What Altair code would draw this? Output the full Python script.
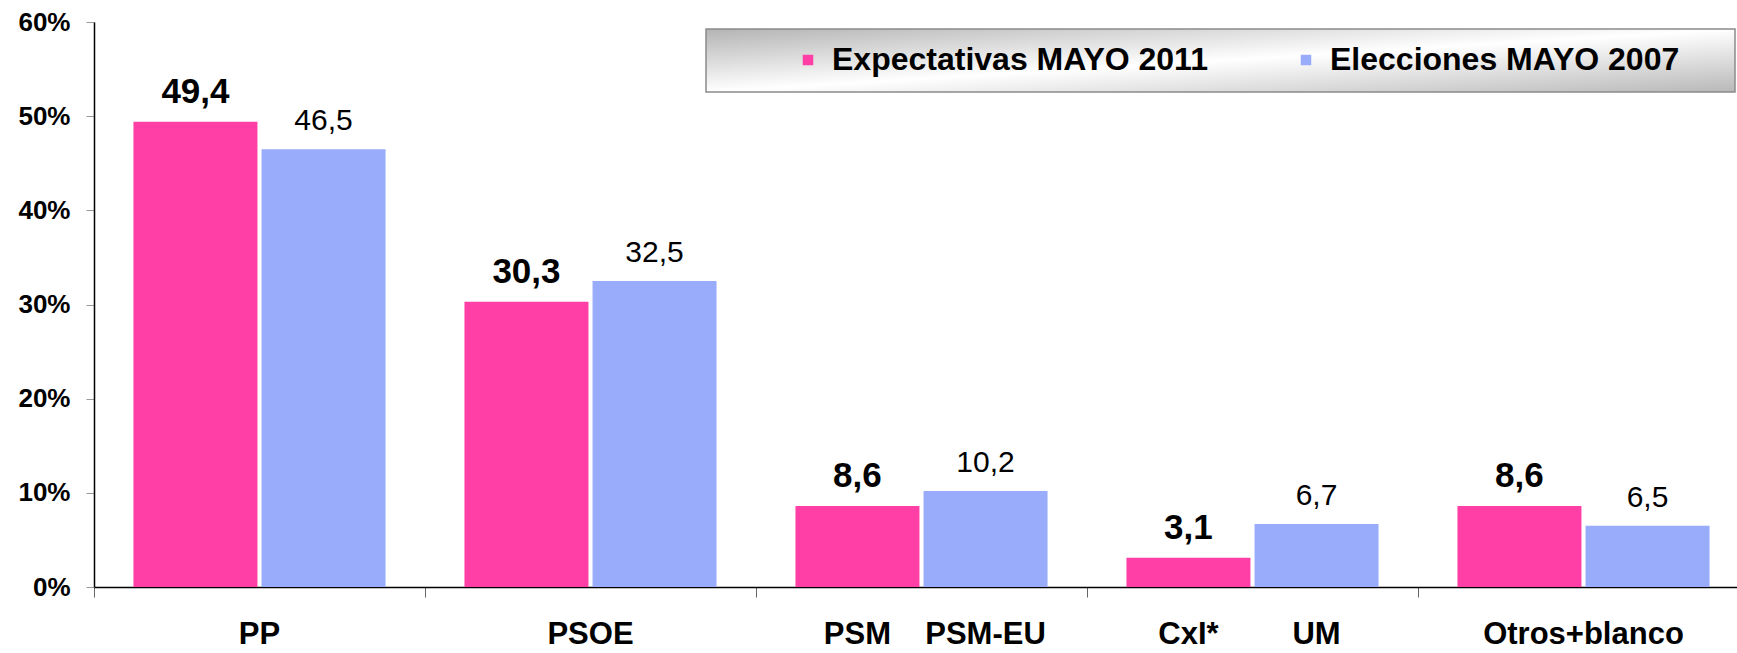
import altair as alt
import pandas as pd

categories = ["PP", "PSOE", "PSM", "CxI", "Otros"]
series = ["Expectativas MAYO 2011", "Elecciones MAYO 2007"]
expectativas = [49.4, 30.3, 8.6, 3.1, 8.6]
elecciones = [46.5, 32.5, 10.2, 6.7, 6.5]
colors = ["#ff3fa6", "#98acfb"]
y_ticks = [0, 10, 20, 30, 40, 50, 60]

# labels under the axis: single centered ones and per-bar pairs
single_cats = ["PP", "PSOE", "Otros"]
single_texts = ["PP", "PSOE", "Otros+blanco"]
pair_cats = ["PSM", "PSM", "CxI", "CxI"]
pair_series = [series[0], series[1], series[0], series[1]]
pair_texts = ["PSM", "PSM-EU", "CxI*", "UM"]

rows = []
for c, a, b in zip(categories, expectativas, elecciones):
    rows.append({"cat": c, "series": series[0], "value": a})
    rows.append({"cat": c, "series": series[1], "value": b})
df = pd.DataFrame(rows)
single_df = pd.DataFrame({"cat": single_cats, "text": single_texts})
pair_df = pd.DataFrame({"cat": pair_cats, "series": pair_series, "text": pair_texts})

FONT = "Liberation Sans"
W, H = 1643, 565
XRANGE = 1655  # plot runs past the right edge of the picture, as in the original

x_enc = alt.X("cat:N", sort=categories,
              scale=alt.Scale(paddingInner=0, paddingOuter=0, range=[0, XRANGE]),
              axis=alt.Axis(title=None, labels=False, tickBand="extent", tickSize=10,
                            tickColor="#666", domainColor="#000", domainWidth=1.5))
xoff_enc = alt.XOffset("series:N", sort=series,
                       scale=alt.Scale(paddingInner=0.032, paddingOuter=0.308))
y_enc = alt.Y("value:Q", scale=alt.Scale(domain=[0, 60]),
              axis=alt.Axis(title=None, values=y_ticks, labelExpr="datum.value + '%'",
                            labelFont=FONT, labelFontSize=26, labelFontWeight="bold",
                            labelColor="#000", labelPadding=16, tickSize=8, tickColor="#999",
                            domainColor="#000", domainWidth=1.5, grid=False))

legend_bg = alt.Chart(pd.DataFrame({"k": [0]})).mark_rect(
    fill=alt.Gradient(gradient="linear", x1=0, y1=0, x2=1, y2=1,
                      stops=[alt.GradientStop(color="#b4b4b4", offset=0),
                             alt.GradientStop(color="#ffffff", offset=0.5),
                             alt.GradientStop(color="#b8b8b8", offset=1)]),
    stroke="#8a8a8a", strokeWidth=1.5
).encode(x=alt.value(612), x2=alt.value(1641), y=alt.value(7), y2=alt.value(70))

base = alt.Chart(df)
bars = base.mark_bar().encode(
    x=x_enc, xOffset=xoff_enc, y=y_enc,
    color=alt.Color("series:N", scale=alt.Scale(domain=series, range=colors),
                    legend=alt.Legend(title=None, orient="none", legendX=698, legendY=22,
                                      direction="horizontal", symbolType="square",
                                      symbolSize=110, symbolStrokeWidth=0,
                                      labelFont=FONT, labelFontSize=32, labelFontWeight="bold",
                                      labelColor="#000", labelOffset=8, columnPadding=82,
                                      padding=0, labelLimit=600))
)

txt_calc = "replace(format(datum.value, '.1f'), '.', ',')"
lab_a = base.transform_filter(alt.datum.series == series[0]).transform_calculate(
    t=txt_calc).mark_text(font=FONT, fontSize=35, fontWeight="bold", dy=-19,
                          baseline="alphabetic", color="#000").encode(
    x=alt.X("cat:N", sort=categories), xOffset=alt.XOffset("series:N", sort=series),
    y="value:Q", text="t:N")
lab_b = base.transform_filter(alt.datum.series == series[1]).transform_calculate(
    t=txt_calc).mark_text(font=FONT, fontSize=30, dy=-19,
                          baseline="alphabetic", color="#000").encode(
    x=alt.X("cat:N", sort=categories), xOffset=alt.XOffset("series:N", sort=series),
    y="value:Q", text="t:N")

xl_single = alt.Chart(single_df).mark_text(font=FONT, fontSize=31, fontWeight="bold",
                                           baseline="middle", color="#000").encode(
    x=alt.X("cat:N", sort=categories), y=alt.value(H + 48), text="text:N")
xl_pair = alt.Chart(pair_df).mark_text(font=FONT, fontSize=31, fontWeight="bold",
                                       baseline="middle", color="#000").encode(
    x=alt.X("cat:N", sort=categories), xOffset=alt.XOffset("series:N", sort=series),
    y=alt.value(H + 48), text="text:N")

chart = alt.layer(legend_bg, bars, lab_a, lab_b, xl_single, xl_pair).properties(
    width=W, height=H,
    autosize=alt.AutoSizeParams(type="none"),
    padding={"left": 94, "top": 22, "right": 0, "bottom": 66},
    background="#ffffff"
).configure_view(stroke=None)

chart.save("out.html", embed_options={"renderer": "svg", "actions": False})
